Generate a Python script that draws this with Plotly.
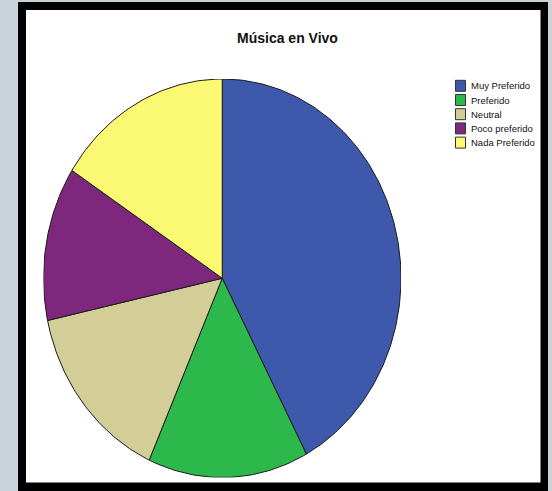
import numpy as np
import plotly.graph_objects as go

categories = ["Muy Preferido", "Preferido", "Neutral", "Poco preferido", "Nada Preferido"]
values = [42.2, 14.5, 14.9, 12.5, 15.9]
colors = ["#3e58ac", "#2db84b", "#d3ce97", "#7d287d", "#fbf873"]
title = "Música en Vivo"

W, H = 552, 491
fig = go.Figure()

total = sum(values)
cum = np.concatenate([[0], np.cumsum(values)]) / total
for i, (cat, col) in enumerate(zip(categories, colors)):
    a0, a1 = cum[i] * 2 * np.pi, cum[i + 1] * 2 * np.pi
    n = max(int((a1 - a0) / (2 * np.pi) * 360), 4)
    t = np.linspace(a0, a1, n)
    xs = np.concatenate([[0], np.sin(t), [0]])
    ys = np.concatenate([[0], np.cos(t), [0]])
    fig.add_trace(go.Scatter(
        x=xs, y=ys, mode="lines", fill="toself", fillcolor=col,
        line=dict(color="#1a1a1a", width=1), name=cat,
        hoverinfo="name", showlegend=False,
    ))


def px_x(p):
    return p / W


def px_y(p):
    return 1 - p / H


shapes = [
    dict(type="rect", xref="paper", yref="paper", x0=px_x(18), x1=px_x(548),
         y0=px_y(495), y1=px_y(2), fillcolor="black", line=dict(width=0), layer="below"),
    dict(type="rect", xref="paper", yref="paper", x0=px_x(26), x1=px_x(540.5),
         y0=px_y(482.5), y1=px_y(10), fillcolor="white", line=dict(width=0), layer="below"),
]
annotations = [dict(text="<b>" + title + "</b>", x=px_x(287), y=px_y(38), xref="paper", yref="paper",
                    showarrow=False, xanchor="center", yanchor="middle",
                    font=dict(family="Liberation Sans, Arial", size=14, color="#111"))]

# legend (swatches + real text)
leg_top, leg_step = 85.8, 14.2
for i, (cat, col) in enumerate(zip(categories, colors)):
    yc = leg_top + i * leg_step
    shapes.append(dict(type="rect", xref="paper", yref="paper",
                       x0=px_x(455.5), x1=px_x(465.5), y0=px_y(yc + 5.5), y1=px_y(yc - 5.5),
                       fillcolor=col, line=dict(color="#333333", width=1), layer="above"))
    annotations.append(dict(text=cat, x=px_x(468.5), y=px_y(yc), xref="paper", yref="paper",
                            showarrow=False, xanchor="left", yanchor="middle",
                            font=dict(family="Liberation Sans, Arial", size=9.5, color="#111")))

fig.update_layout(
    width=W, height=H, autosize=False,
    margin=dict(l=0, r=0, t=0, b=0),
    paper_bgcolor="#c8d3d9",
    plot_bgcolor="rgba(0,0,0,0)",
    xaxis=dict(domain=[px_x(43.5), px_x(401)], range=[-1, 1], visible=False, fixedrange=True),
    yaxis=dict(domain=[px_y(477.5), px_y(79)], range=[-1, 1], visible=False, fixedrange=True),
    shapes=shapes,
    annotations=annotations,
    showlegend=False,
)
fig.write_html(
    "out.html",
    config={"responsive": False, "displayModeBar": False},
    post_script="document.body.style.margin='0';document.body.style.padding='0';document.body.style.overflow='hidden';",
)
